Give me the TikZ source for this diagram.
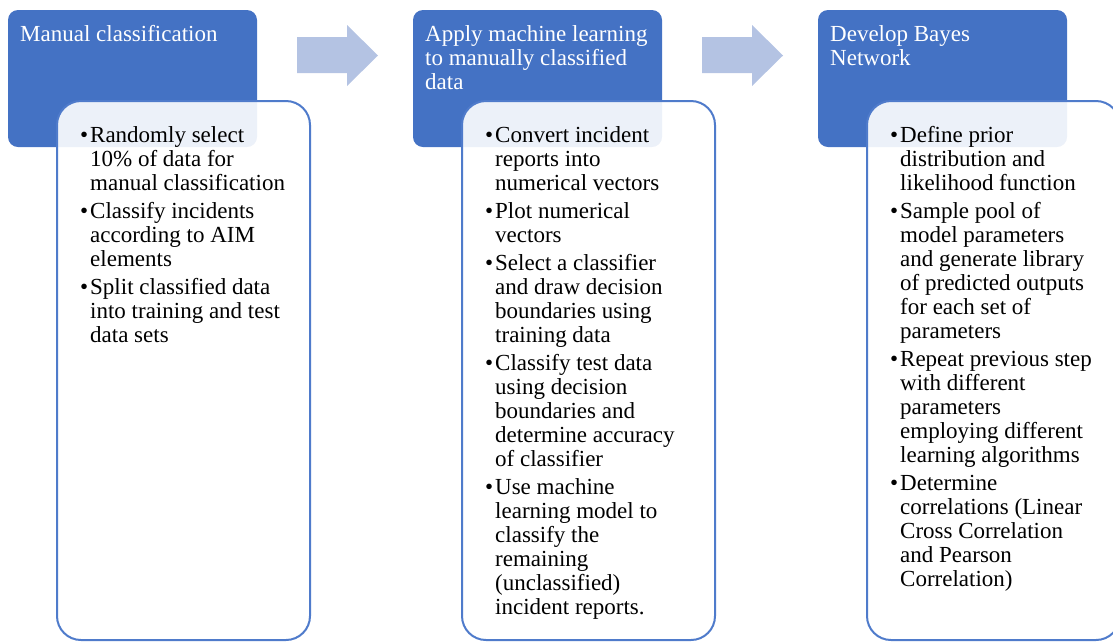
\documentclass[tikz,border=0pt]{standalone}
\usepackage{fontspec}
\setmainfont{Liberation Serif}
\usepackage{array}
\definecolor{stageblue}{HTML}{4472C4}
\definecolor{stepline}{HTML}{4F7BCB}
\definecolor{flowarrow}{RGB}{180,195,227}
\newcommand{\bodyfont}{\fontsize{23}{24}\selectfont}
\newcommand{\pt}{\makebox[10pt][l]{•}}
\begin{document}
\begin{tikzpicture}[x=1pt,y=-1pt,
  stagebox/.style={fill=stageblue, rounded corners=10pt},
  taskbox/.style={fill=white, fill opacity=0.9, draw=stepline, line width=2pt, rounded corners=24pt},
  headtext/.style={anchor=base west, inner sep=0pt, text=white, font=\bodyfont},
  listtext/.style={anchor=base west, inner sep=0pt, text=black, font=\bodyfont},
  flow/.style={fill=flowarrow}]
\useasboundingbox (0,0) rectangle (1113,641);

% stage 1
\fill[stagebox] (8,10) rectangle (257,147);
\draw[taskbox] (57,101) rectangle (310,640);
\node[headtext] (h1) at (20,41) {Manual classification};
\node[listtext] (l1) at (80,142) {\begin{tabular}[t]{@{}l@{}l@{}}
\pt & Randomly select\\
    & 10\% of data for\\
    & manual classification\\[4pt]
\pt & Classify incidents\\
    & according to AIM\\
    & elements\\[4pt]
\pt & Split classified data\\
    & into training and test\\
    & data sets
\end{tabular}};

% stage 2
\fill[stagebox] (413,10) rectangle (662,147);
\draw[taskbox] (462,101) rectangle (715,640);
\node[headtext] (h2) at (425,41) {\begin{tabular}[t]{@{}l@{}}
Apply machine learning\\
to manually classified\\
data
\end{tabular}};
\node[listtext] (l2) at (485,142) {\begin{tabular}[t]{@{}l@{}l@{}}
\pt & Convert incident\\
    & reports into\\
    & numerical vectors\\[4pt]
\pt & Plot numerical\\
    & vectors\\[4pt]
\pt & Select a classifier\\
    & and draw decision\\
    & boundaries using\\
    & training data\\[4pt]
\pt & Classify test data\\
    & using decision\\
    & boundaries and\\
    & determine accuracy\\
    & of classifier\\[4pt]
\pt & Use machine\\
    & learning model to\\
    & classify the\\
    & remaining\\
    & (unclassified)\\
    & incident reports.
\end{tabular}};

% stage 3
\fill[stagebox] (818,10) rectangle (1067,147);
\draw[taskbox] (867,101) rectangle (1120,640);
\node[headtext] (h3) at (830,41) {\begin{tabular}[t]{@{}l@{}}
Develop Bayes\\
Network
\end{tabular}};
\node[listtext] (l3) at (890,142) {\begin{tabular}[t]{@{}l@{}l@{}}
\pt & Define prior\\
    & distribution and\\
    & likelihood function\\[4pt]
\pt & Sample pool of\\
    & model parameters\\
    & and generate library\\
    & of predicted outputs\\
    & for each set of\\
    & parameters\\[4pt]
\pt & Repeat previous step\\
    & with different\\
    & parameters\\
    & employing different\\
    & learning algorithms\\[4pt]
\pt & Determine\\
    & correlations (Linear\\
    & Cross Correlation\\
    & and Pearson\\
    & Correlation)
\end{tabular}};

% block arrows between the stages
\fill[flow] (297,37) -- (347,37) -- (347,25) -- (378,55.5) -- (347,86) -- (347,73) -- (297,73) -- cycle;
\fill[flow] (702,37) -- (752,37) -- (752,25) -- (783,55.5) -- (752,86) -- (752,73) -- (702,73) -- cycle;
\end{tikzpicture}
\end{document}
